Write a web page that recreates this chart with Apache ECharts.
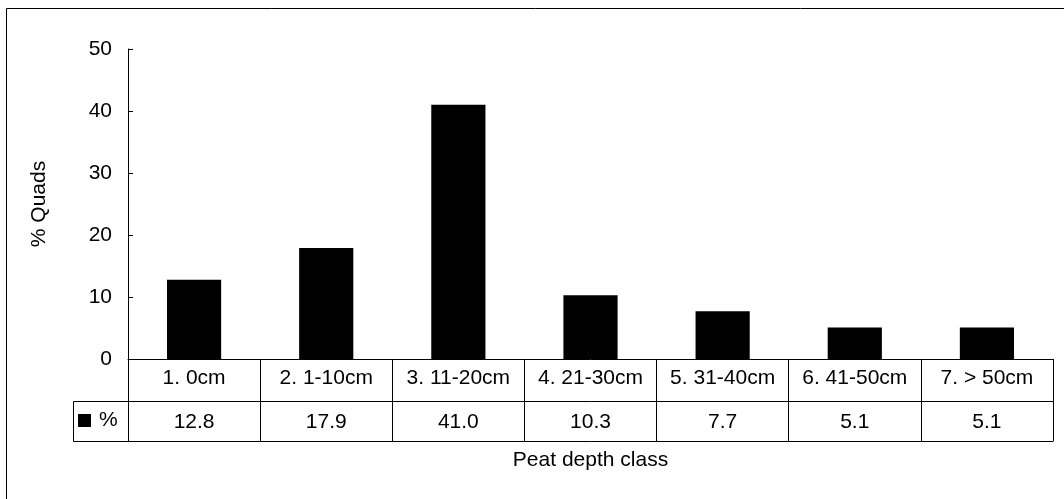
<!DOCTYPE html>
<html>
<head>
<meta charset="utf-8">
<script src="https://cdn.jsdelivr.net/npm/echarts@6/dist/echarts.min.js"></script>
<style>
html,body{margin:0;padding:0;background:#fff;}
#chart{width:1064px;height:499px;}
</style>
</head>
<body>
<div id="chart"></div>
<script>
const categories = ["1. 0cm", "2. 1-10cm", "3. 11-20cm", "4. 21-30cm", "5. 31-40cm", "6. 41-50cm", "7. > 50cm"];
const values = [12.8, 17.9, 41.0, 10.3, 7.7, 5.1, 5.1];
const seriesName = "%";
const yTitle = "% Quads";
const xTitle = "Peat depth class";

const FONT = "'Liberation Sans', Arial, sans-serif";
const FS = 21;
const chart = echarts.init(document.getElementById('chart'), null, {renderer: 'canvas'});

const labelStyle = {color: '#000', fontSize: FS, fontFamily: FONT};

chart.setOption({
  animation: false,
  backgroundColor: '#fff',
  textStyle: {fontFamily: FONT, color: '#000'},
  grid: {left: 128, right: 11, top: 49, bottom: 140, containLabel: false},
  legend: {
    show: true,
    data: [seriesName],
    left: 78, top: 410, padding: 0,
    icon: 'rect', itemWidth: 13, itemHeight: 13, itemGap: 6,
    textStyle: {color: '#000', fontSize: FS, fontFamily: FONT, padding: [0, 0, 0, 3]},
    selectedMode: false
  },
  xAxis: [
    {
      type: 'category', data: categories, position: 'bottom', boundaryGap: true,
      axisLine: {show: true, lineStyle: {color: '#000', width: 1}},
      axisTick: {show: true, inside: false, length: 42, alignWithLabel: false, lineStyle: {color: '#000'}},
      axisLabel: Object.assign({margin: 9, interval: 0}, labelStyle),
      splitLine: {show: false}
    },
    {
      type: 'category', data: values.map(v => v.toFixed(1)), position: 'bottom', offset: 42, boundaryGap: true,
      axisLine: {show: true, lineStyle: {color: '#000', width: 1}},
      axisTick: {show: true, inside: false, length: 40, alignWithLabel: false, lineStyle: {color: '#000'}},
      axisLabel: Object.assign({margin: 11, interval: 0}, labelStyle),
      splitLine: {show: false}
    },
    {
      type: 'category', data: categories, position: 'bottom', offset: 82, boundaryGap: true,
      axisLine: {show: true, lineStyle: {color: '#000', width: 1}},
      axisTick: {show: false},
      axisLabel: {show: false},
      name: xTitle, nameLocation: 'middle', nameGap: 9,
      nameTextStyle: {color: '#000', fontSize: FS, fontFamily: FONT}
    }
  ],
  yAxis: {
    type: 'value', min: 0, max: 50, interval: 10,
    axisLine: {show: true, lineStyle: {color: '#000', width: 1}},
    axisTick: {show: true, inside: true, length: 5, lineStyle: {color: '#000'}},
    axisLabel: Object.assign({margin: 16}, labelStyle),
    splitLine: {show: false},
    name: yTitle, nameLocation: 'middle', nameGap: 78, nameRotate: 90,
    nameTextStyle: {color: '#000', fontSize: FS, fontFamily: FONT}
  },
  series: [{
    name: seriesName, type: 'bar', data: values, xAxisIndex: 0,
    barWidth: '41%',
    itemStyle: {color: '#000'},
    emphasis: {disabled: true}
  }],
  graphic: [
    {type: 'rect', shape: {x: 6.5, y: 8.5, width: 1100, height: 600}, style: {fill: null, stroke: '#000', lineWidth: 1}, silent: true, z: -1},
    {type: 'rect', shape: {x: 73.5, y: 401.5, width: 55, height: 40}, style: {fill: null, stroke: '#000', lineWidth: 1}, silent: true}
  ]
});
</script>
</body>
</html>
